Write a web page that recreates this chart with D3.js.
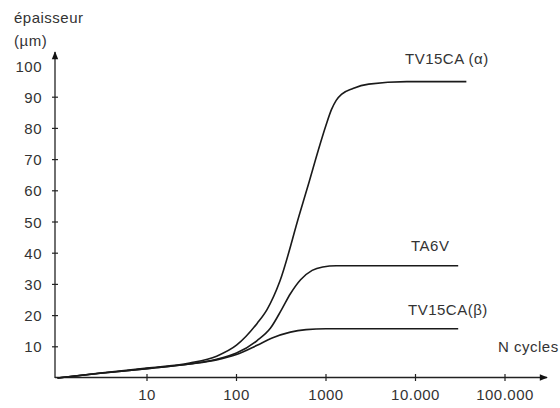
<!DOCTYPE html>
<html>
<head>
<meta charset="utf-8">
<script src="https://cdn.jsdelivr.net/npm/d3@7"></script>
<style>
  body { margin: 0; background: #fff; }
  text { font-family: "Liberation Sans", Arial, sans-serif; fill: #333; letter-spacing: 0.5px; }
</style>
</head>
<body>
<svg id="chart" width="560" height="408"></svg>
<script>
// values: thickness (µm) vs number of cycles
const yTicks = [10, 20, 30, 40, 50, 60, 70, 80, 90, 100];
const xTicks = [10, 100, 1000, 10000, 100000];
const xTickLabels = ['10', '100', '1000', '10.000', '100.000'];

const alphaN = [1, 3, 10, 30, 60, 100, 170, 220, 305, 500, 650, 820, 1000, 1150, 1300, 1500, 2000, 3000, 8000, 37000];
const alphaV = [0, 1.6, 3.2, 4.8, 7, 10.5, 17.5, 22, 31, 52, 63, 73, 81, 86, 89, 91, 92.8, 94.2, 95, 95];

const ta6vN = [1, 3, 10, 30, 60, 100, 170, 240, 320, 400, 520, 700, 920, 1300, 3000, 30000];
const ta6vV = [0, 1.5, 3, 4.5, 6, 8, 12, 16, 22, 27, 31.5, 34.5, 35.6, 36, 36, 36];

const betaN = [1, 3, 10, 30, 60, 100, 170, 250, 400, 600, 1000, 30000];
const betaV = [0, 1.5, 3, 4.5, 5.8, 7.5, 10.5, 12.8, 14.7, 15.5, 15.8, 15.8];

const series = [
  { name: 'TV15CA (α)', n: alphaN, v: alphaV, lx: 405, ly: 64 },
  { name: 'TA6V', n: ta6vN, v: ta6vV, lx: 411, ly: 251 },
  { name: 'TV15CA(β)', n: betaN, v: betaV, lx: 408, ly: 315 }
];

const svg = d3.select('#chart');

const x = d3.scaleLog().domain([1, 100000]).range([57.5, 505]);
const y = d3.scaleLinear().domain([0, 100]).range([378, 66]);

// arrowhead
svg.append('defs').append('marker')
  .attr('id', 'arrow')
  .attr('viewBox', '0 0 10 10')
  .attr('refX', 9).attr('refY', 5)
  .attr('markerWidth', 12).attr('markerHeight', 8)
  .attr('markerUnits', 'userSpaceOnUse')
  .attr('orient', 'auto')
  .append('path')
  .attr('d', 'M0,1L10,5L0,9Z')
  .attr('fill', '#111');

// axes lines
svg.append('line')
  .attr('x1', 55).attr('y1', 378).attr('x2', 55).attr('y2', 52)
  .attr('stroke', '#222').attr('stroke-width', 1.3)
  .attr('marker-end', 'url(#arrow)');
svg.append('line')
  .attr('x1', 55).attr('y1', 377.5).attr('x2', 547).attr('y2', 377.5)
  .attr('stroke', '#222').attr('stroke-width', 1.3)
  .attr('marker-end', 'url(#arrow)');

// y ticks
const yAxis = svg.append('g');
yAxis.selectAll('line').data(yTicks.filter(d => d < 100)).join('line')
  .attr('x1', 52).attr('x2', 58)
  .attr('y1', d => y(d)).attr('y2', d => y(d))
  .attr('stroke', '#222').attr('stroke-width', 1.2);
yAxis.selectAll('text').data(yTicks).join('text')
  .attr('x', 42).attr('y', d => y(d) + 5.5)
  .attr('text-anchor', 'end')
  .attr('font-size', 15)
  .text(d => d);

// x ticks
const xAxis = svg.append('g');
xAxis.selectAll('line').data(xTicks).join('line')
  .attr('x1', d => x(d)).attr('x2', d => x(d))
  .attr('y1', 374).attr('y2', 381)
  .attr('stroke', '#222').attr('stroke-width', 1.2);
xAxis.selectAll('text').data(xTicks).join('text')
  .attr('x', d => x(d)).attr('y', 400)
  .attr('text-anchor', 'middle')
  .attr('font-size', 15)
  .text((d, i) => xTickLabels[i]);

// axis titles
svg.append('text').attr('x', 14).attr('y', 23).attr('font-size', 15).text('épaisseur');
svg.append('text').attr('x', 14).attr('y', 46).attr('font-size', 15).text('(µm)');
svg.append('text').attr('x', 498).attr('y', 352).attr('font-size', 15).text('N cycles');

// curves
const line = d3.line()
  .x(d => x(d[0]))
  .y(d => y(d[1]))
  .curve(d3.curveMonotoneX);

svg.append('g').selectAll('path').data(series).join('path')
  .attr('d', s => line(s.n.map((n, i) => [n, s.v[i]])))
  .attr('fill', 'none')
  .attr('stroke', '#1a1a1a')
  .attr('stroke-width', 1.6);

svg.append('g').selectAll('text').data(series).join('text')
  .attr('x', s => s.lx).attr('y', s => s.ly)
  .attr('font-size', 15)
  .text(s => s.name);
</script>
</body>
</html>
